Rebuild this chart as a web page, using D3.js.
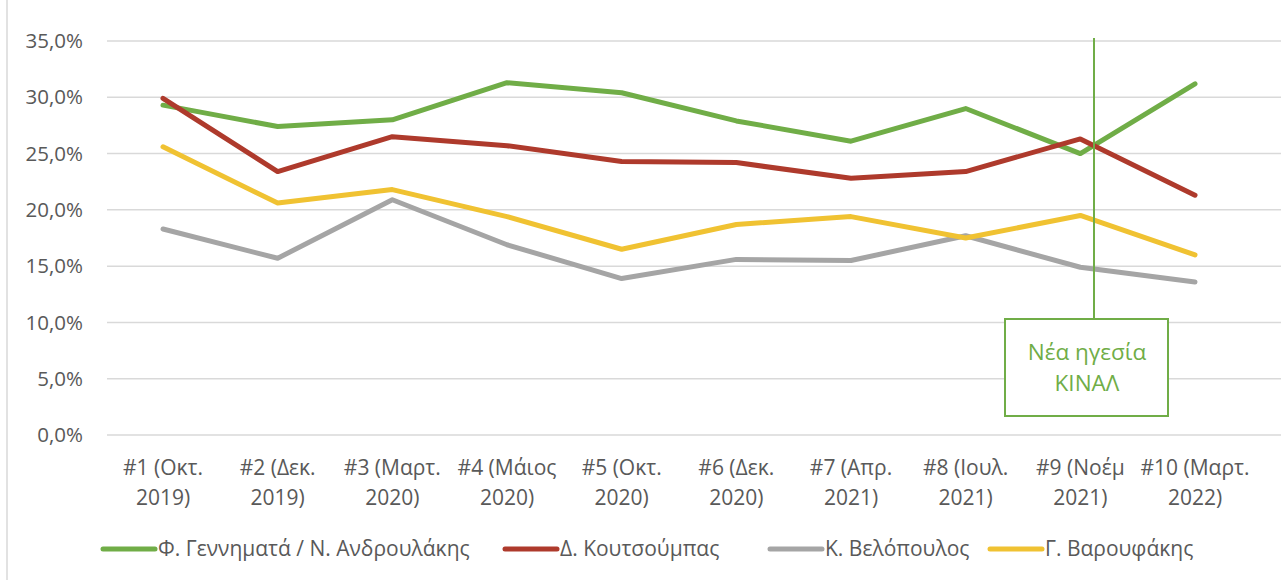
<!DOCTYPE html>
<html><head><meta charset="utf-8">
<script src="https://cdn.jsdelivr.net/npm/d3@7"></script>
<style>body{margin:0;background:#fff;}svg{display:block;}</style>
</head><body>
<script>
const categories = [
  ["#1 (Οκτ.","2019)"],["#2 (Δεκ.","2019)"],["#3 (Μαρτ.","2020)"],["#4 (Μάιος","2020)"],["#5 (Οκτ.","2020)"],
  ["#6 (Δεκ.","2020)"],["#7 (Απρ.","2021)"],["#8 (Ιουλ.","2021)"],["#9 (Νοέμ","2021)"],["#10 (Μαρτ.","2022)"]
];
const seriesNames = ["Φ. Γεννηματά / Ν. Ανδρουλάκης","Δ. Κουτσούμπας","Κ. Βελόπουλος","Γ. Βαρουφάκης"];
const gennimata = [29.3,27.4,28.0,31.3,30.4,27.9,26.1,29.0,25.0,31.2];
const koutsoumpas = [29.9,23.4,26.5,25.7,24.3,24.2,22.8,23.4,26.3,21.3];
const velopoulos = [18.3,15.7,20.9,16.9,13.9,15.6,15.5,17.7,14.9,13.6];
const varoufakis = [25.6,20.6,21.8,19.4,16.5,18.7,19.4,17.5,19.5,16.0];
const yTicks = [0,5,10,15,20,25,30,35];
const colors = ["#70ad47","#ae3a2c","#a5a5a5","#f0c232"];
const annotation = {index: 8, lines: ["Νέα ηγεσία","ΚΙΝΑΛ"]};

const W = 1281, H = 580;
const font = "'Open Sans', Lato, sans-serif";
const svg = d3.select("body").append("svg").attr("width", W).attr("height", H);

const x = d3.scalePoint().domain(d3.range(categories.length)).range([163, 1195]);
const y = d3.scaleLinear().domain([0, 35]).range([435, 41]);

svg.append("line").attr("x1",7).attr("x2",7).attr("y1",0).attr("y2",H).attr("stroke","#d9d9d9").attr("stroke-width",1.5);

svg.append("g").selectAll("line").data(yTicks).join("line")
  .attr("x1",107).attr("x2",1281).attr("y1",d=>y(d)).attr("y2",d=>y(d))
  .attr("stroke","#d9d9d9").attr("stroke-width",1.5);

const fmt = v => v.toFixed(1).replace(".", ",") + "%";
svg.append("g").selectAll("text").data(yTicks).join("text")
  .attr("x",83).attr("y",d=>y(d)).attr("dy","0.35em").attr("text-anchor","end")
  .attr("font-family",font).attr("font-size",20.5).attr("fill","#595959").text(fmt);

const xl = svg.append("g").selectAll("text").data(categories).join("text")
  .attr("text-anchor","middle").attr("font-family",font).attr("font-size",21).attr("fill","#595959");
xl.append("tspan").attr("x",(d,i)=>x(i)).attr("y",475).text(d=>d[0]);
xl.append("tspan").attr("x",(d,i)=>x(i)).attr("y",505).text(d=>d[1]);

const data = [gennimata, koutsoumpas, velopoulos, varoufakis];
const line = d3.line().x((d,i)=>x(i)).y(d=>y(d));
[0,1,2,3].forEach(k => {
  svg.append("path").datum(data[k]).attr("d", line).attr("fill","none")
    .attr("stroke", colors[k]).attr("stroke-width",5).attr("stroke-linejoin","round").attr("stroke-linecap","round");
});

const ax = 1094;
svg.append("line").attr("x1",ax).attr("x2",ax).attr("y1",38).attr("y2",319).attr("stroke","#70ad47").attr("stroke-width",2);
svg.append("rect").attr("x",1005).attr("y",319).attr("width",163).attr("height",97)
  .attr("fill","#fff").attr("stroke","#70ad47").attr("stroke-width",2);
svg.append("g").selectAll("text").data(annotation.lines).join("text")
  .attr("x",1087).attr("y",(d,i)=>360+i*31).attr("text-anchor","middle")
  .attr("font-family",font).attr("font-size",22.5).attr("fill","#70ad47").text(d=>d);

const legX = [103, 505, 770, 990];
const lg = svg.append("g").selectAll("g").data(seriesNames).join("g")
  .attr("transform",(d,i)=>`translate(${legX[i]},549)`);
lg.append("line").attr("x1",0).attr("x2",52).attr("stroke",(d,i)=>colors[i]).attr("stroke-width",5).attr("stroke-linecap","round");
lg.append("text").attr("x",55).attr("dy","0.35em").attr("font-family",font).attr("font-size",21).attr("fill","#595959").text(d=>d);
</script>
</body></html>
